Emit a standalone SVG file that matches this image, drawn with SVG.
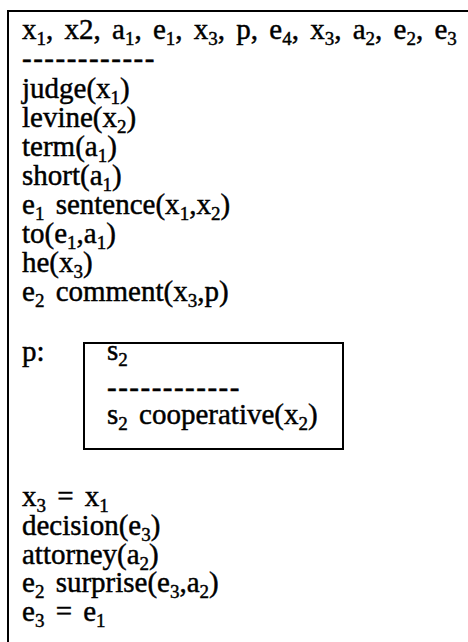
<svg xmlns="http://www.w3.org/2000/svg" width="468" height="642" viewBox="0 0 468 642">
<style>
text{font-family:"Liberation Serif","Times New Roman",serif;font-size:29px;fill:#000;stroke:#000;stroke-width:0.45;word-spacing:4px;}
.s{font-size:19px;}
.d{letter-spacing:1.5px;}
.frame{fill:none;stroke:#000;stroke-width:2;}
</style>
<rect width="468" height="642" fill="#fff"/>
<g id="outer">
<path class="frame" d="M8,642 V11 H468"/>
<text x="22" y="39">x<tspan class="s" dy="6">1</tspan><tspan dy="-6">, x2, a</tspan><tspan class="s" dy="6">1</tspan><tspan dy="-6">, e</tspan><tspan class="s" dy="6">1</tspan><tspan dy="-6">, x</tspan><tspan class="s" dy="6">3</tspan><tspan dy="-6">, p, e</tspan><tspan class="s" dy="6">4</tspan><tspan dy="-6">, x</tspan><tspan class="s" dy="6">3</tspan><tspan dy="-6">, a</tspan><tspan class="s" dy="6">2</tspan><tspan dy="-6">, e</tspan><tspan class="s" dy="6">2</tspan><tspan dy="-6">, e</tspan><tspan class="s" dy="6">3</tspan></text>
<text class="d" x="22" y="68">------------</text>
<text x="22" y="98">judge(x<tspan class="s" dy="6">1</tspan><tspan dy="-6">)</tspan></text>
<text x="22" y="127">levine(x<tspan class="s" dy="6">2</tspan><tspan dy="-6">)</tspan></text>
<text x="22" y="156">term(a<tspan class="s" dy="6">1</tspan><tspan dy="-6">)</tspan></text>
<text x="22" y="185">short(a<tspan class="s" dy="6">1</tspan><tspan dy="-6">)</tspan></text>
<text x="22" y="214">e<tspan class="s" dy="6">1</tspan><tspan dy="-6"> sentence(x</tspan><tspan class="s" dy="6">1</tspan><tspan dy="-6">,x</tspan><tspan class="s" dy="6">2</tspan><tspan dy="-6">)</tspan></text>
<text x="22" y="243">to(e<tspan class="s" dy="6">1</tspan><tspan dy="-6">,a</tspan><tspan class="s" dy="6">1</tspan><tspan dy="-6">)</tspan></text>
<text x="22" y="272">he(x<tspan class="s" dy="6">3</tspan><tspan dy="-6">)</tspan></text>
<text x="22" y="301">e<tspan class="s" dy="6">2</tspan><tspan dy="-6"> comment(x</tspan><tspan class="s" dy="6">3</tspan><tspan dy="-6">,p)</tspan></text>
<text x="22" y="361">p:</text>
<text x="22" y="506">x<tspan class="s" dy="6">3</tspan><tspan dy="-6"> = x</tspan><tspan class="s" dy="6">1</tspan></text>
<text x="22" y="535">decision(e<tspan class="s" dy="6">3</tspan><tspan dy="-6">)</tspan></text>
<text x="22" y="564">attorney(a<tspan class="s" dy="6">2</tspan><tspan dy="-6">)</tspan></text>
<text x="22" y="592">e<tspan class="s" dy="6">2</tspan><tspan dy="-6"> surprise(e</tspan><tspan class="s" dy="6">3</tspan><tspan dy="-6">,a</tspan><tspan class="s" dy="6">2</tspan><tspan dy="-6">)</tspan></text>
<text x="22" y="621">e<tspan class="s" dy="6">3</tspan><tspan dy="-6"> = e</tspan><tspan class="s" dy="6">1</tspan></text>
</g>
<g id="p-box">
<rect class="frame" x="84" y="343" width="259" height="106"/>
<text x="107" y="360">s<tspan class="s" dy="6">2</tspan></text>
<text class="d" x="107" y="397">------------</text>
<text x="107" y="424">s<tspan class="s" dy="6">2</tspan><tspan dy="-6"> cooperative(x</tspan><tspan class="s" dy="6">2</tspan><tspan dy="-6">)</tspan></text>
</g>
<g id="connectors"></g>
</svg>
